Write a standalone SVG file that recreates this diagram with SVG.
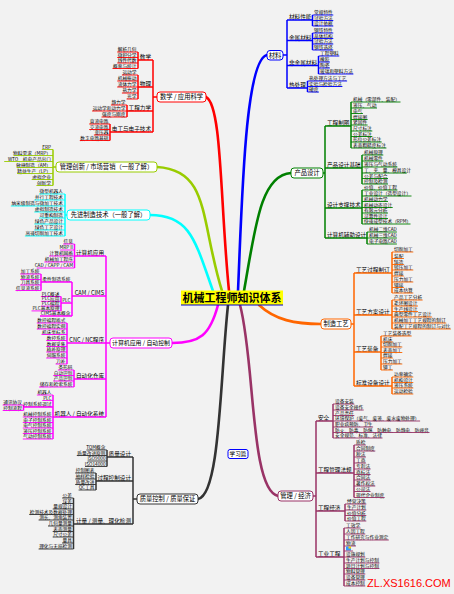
<svg xmlns="http://www.w3.org/2000/svg" width="454" height="594" viewBox="0 0 454 594">
<style>
text{font-family:"Noto Sans CJK SC","Noto Sans",sans-serif;fill:#000;stroke:none}
.l{font-size:4.7px}
.s{font-size:5.6px}
.n{font-size:6.3px;text-anchor:middle}
.e{text-anchor:end}
path{fill:none}
.u{stroke-width:0.9}
.v{stroke-width:1.5}
.cv{stroke-width:2.6;stroke-linecap:round}
.bx{fill:#fff;stroke-width:1}
.R{stroke:#ff0000}.B{stroke:#0000ff}.G{stroke:#008000}.O{stroke:#ff6600}.P{stroke:#993366}.K{stroke:#333333}.M{stroke:#ff00ff}.C{stroke:#00ffff}.Y{stroke:#99cc00}
</style>
<rect width="454" height="594" fill="#f2f2f2"/>
<g id="connectors">
 <g class="cv">
  <path class="R" d="M229 291C220 200 222 105 206 97"/>
  <path class="B" d="M238 291C242 200 245 60 267 55"/>
  <path class="G" d="M244 291C255 230 260 175 291 173"/>
  <path class="O" d="M259 305C275 320 295 324 321 324"/>
  <path class="P" d="M240 305C255 360 250 490 278 496"/>
  <path class="K" d="M228 305C220 380 220 495 198 499"/>
  <path class="M" d="M218 305C210 335 200 343 172 343"/>
  <path class="C" d="M213 291C195 240 190 215 150 215"/>
  <path class="Y" d="M222 291C200 220 210 170 157 167"/>
 </g>
 <path class="R v" d="M153 60V132M153 97H157M138 52V68.5M138 75V99M127 105V117M110 124V140.5"/>
 <path class="Y v" d="M53 149.5V185.5M53 167H56"/>
 <path class="C v" d="M65 194V236M65 215H67"/>
 <path class="M v" d="M106 256V417M106 343H110M74.5 244V268M72 282V316M41 274V290.5M61 296.5V310.9M67 323V364M74 370V387M53 395V439M23.5 405V410.5"/>
 <path class="K v" d="M133 457V524M133 499H137M107 450V466.5M96 473V490M73.5 498V549"/>
 <path class="B v" d="M287 20V88M283 55H287M312.5 15V26M312.5 33V50M318.5 56V74M307.5 81V92"/>
 <path class="G v" d="M325 126V238M323 173H325M351 102V148M362 155V184M362 190V224M367 232V244"/>
 <path class="O v" d="M354 273V386M351 324H354M392 252V293M392 300V329M381 336V370M392 377V394"/>
 <path class="P v" d="M316 421V557M313 496H316M333 404V438M354 445V497.5M345 504V521M344 528V586"/>
</g>

<g id="n-center">
 <rect x="181" y="290.5" width="102" height="14.5" fill="#ffff00"/>
 <text x="232" y="302" style="font-size:11px;font-weight:bold;text-anchor:middle">机械工程师知识体系</text>
 <path d="M181 305H283" stroke="#0000cc" stroke-width="1.2"/>
</g>

<g class="R">
 <g id="n-sci"><rect class="bx" x="157" y="92" width="49" height="10" rx="3"/><text class="n" x="181.5" y="99.3">数学 / 应用科学</text></g>
 <g id="n-math"><text class="s e" x="151" y="59">数学</text><path class="v" d="M138 60H153"/></g>
 <g id="n-math1"><text class="l e" x="136.5" y="51">解析几何</text><path class="u" d="M117.2 52H138"/></g>
 <g id="n-math2"><text class="l e" x="136.5" y="56.5">微积分学</text><path class="u" d="M117.2 57.5H138"/></g>
 <g id="n-math3"><text class="l e" x="136.5" y="62">线性代数</text><path class="u" d="M117.2 63H138"/></g>
 <g id="n-math4"><text class="l e" x="136.5" y="67.5">概率与统计</text><path class="u" d="M112.5 68.5H138"/></g>
 <g id="n-phy"><text class="s e" x="151" y="86">物理</text><path class="v" d="M138 87H153"/></g>
 <g id="n-phy1"><text class="l e" x="136.5" y="74">运动学</text><path class="u" d="M121.9 75H138"/></g>
 <g id="n-phy2"><text class="l e" x="136.5" y="80">机械振动</text><path class="u" d="M117.2 81H138"/></g>
 <g id="n-phy3"><text class="l e" x="136.5" y="86">流体力学</text><path class="u" d="M117.2 87H138"/></g>
 <g id="n-phy4"><text class="l e" x="136.5" y="92">热力学</text><path class="u" d="M121.9 93H138"/></g>
 <g id="n-phy5"><text class="l e" x="136.5" y="98">光学</text><path class="u" d="M126.6 99H138"/></g>
 <g id="n-mech"><text class="s e" x="151" y="110">工程力学</text><path class="v" d="M127 111H153"/></g>
 <g id="n-mech1"><text class="l e" x="125.5" y="104">静力学</text><path class="u" d="M110.9 105H127"/></g>
 <g id="n-mech2"><text class="l e" x="125.5" y="110">运动学和动力学</text><path class="u" d="M92.1 111H127"/></g>
 <g id="n-mech3"><text class="l e" x="125.5" y="116">强度与刚度</text><path class="u" d="M101.5 117H127"/></g>
 <g id="n-elec"><text class="s e" x="151" y="131">电工与电子技术</text><path class="v" d="M110 132H153"/></g>
 <g id="n-elec1"><text class="l e" x="108.5" y="123">直流电路</text><path class="u" d="M89.2 124H110"/></g>
 <g id="n-elec2"><text class="l e" x="108.5" y="128.5">交流电路</text><path class="u" d="M89.2 129.5H110"/></g>
 <g id="n-elec3"><text class="l e" x="108.5" y="134">变压器</text><path class="u" d="M93.9 135H110"/></g>
 <g id="n-elec4"><text class="l e" x="108.5" y="139.5">数字电路基础</text><path class="u" d="M79.8 140.5H110"/></g>
</g>

<g class="Y">
 <g id="n-mgmt"><rect class="bx" x="56" y="162" width="101" height="10" rx="3"/><text class="n" x="106.5" y="169.3">管理创新 / 市场营销（一般了解）</text></g>
 <g id="n-mgmt1"><text class="l e" x="51" y="148.5">ERP</text><path class="u" d="M41.8 149.5H53"/></g>
 <g id="n-mgmt2"><text class="l e" x="51" y="154.5">物料需求（MRP）</text><path class="u" d="M13.6 155.5H53"/></g>
 <g id="n-mgmt3"><text class="l e" x="51" y="160.5">WTO、机电产品出口</text><path class="u" d="M4.2 161.5H53"/></g>
 <g id="n-mgmt4"><text class="l e" x="51" y="166.5">敏捷制造（AM）</text><path class="u" d="M16.7 167.5H53"/></g>
 <g id="n-mgmt5"><text class="l e" x="51" y="172.5">精益生产（LP）</text><path class="u" d="M17 173.5H53"/></g>
 <g id="n-mgmt6"><text class="l e" x="51" y="178.5">虚拟企业</text><path class="u" d="M31.7 179.5H53"/></g>
 <g id="n-mgmt7"><text class="l e" x="51" y="184.5">创新学</text><path class="u" d="M36.4 185.5H53"/></g>
</g>

<g class="C">
 <g id="n-adv"><rect class="bx" x="67" y="210" width="83" height="10" rx="3"/><text class="n" x="108.5" y="217.3">先进制造技术（一般了解）</text></g>
 <g id="n-adv1"><text class="l e" x="63" y="193">微型机器人</text><path class="u" d="M39 194H65"/></g>
 <g id="n-adv2"><text class="l e" x="63" y="199">并行工程技术</text><path class="u" d="M34.3 200H65"/></g>
 <g id="n-adv3"><text class="l e" x="63" y="205">纳米级制造与微加工技术</text><path class="u" d="M10.8 206H65"/></g>
 <g id="n-adv4"><text class="l e" x="63" y="211">虚拟制造技术</text><path class="u" d="M34.3 212H65"/></g>
 <g id="n-adv5"><text class="l e" x="63" y="217">可重构制造</text><path class="u" d="M39 218H65"/></g>
 <g id="n-adv6"><text class="l e" x="63" y="223">绿色产品设计</text><path class="u" d="M34.3 224H65"/></g>
 <g id="n-adv7"><text class="l e" x="63" y="229">绿色工艺设计</text><path class="u" d="M34.3 230H65"/></g>
 <g id="n-adv8"><text class="l e" x="63" y="235">高速切削加工技术</text><path class="u" d="M24.9 236H65"/></g>
</g>

<g class="M">
 <g id="n-comp"><rect class="bx" x="110" y="338" width="62" height="10" rx="3"/><text class="n" x="141" y="345.3" style="font-size:5.9px">计算机应用 / 自动控制</text></g>
 <g id="n-ca"><text class="s e" x="104" y="255">计算机应用</text><path class="v" d="M74.5 256H106"/></g>
 <g id="n-ca1"><text class="l e" x="73" y="243">信息</text><path class="u" d="M63.1 244H74.5"/></g>
 <g id="n-ca2"><text class="l e" x="73" y="249">MRP II</text><path class="u" d="M60.2 250H74.5"/></g>
 <g id="n-ca3"><text class="l e" x="73" y="255">计算机网络</text><path class="u" d="M49 256H74.5"/></g>
 <g id="n-ca4"><text class="l e" x="73" y="261">机械加工程序</text><path class="u" d="M44.3 262H74.5"/></g>
 <g id="n-ca5"><text class="l e" x="73" y="267">CAD / CAPP / CAM</text><path class="u" d="M36.7 268H74.5"/></g>
 <g id="n-cims"><text class="s e" x="104" y="295">CAM / CIMS</text><path class="v" d="M72 296H106"/></g>
 <g id="n-fms"><text class="l e" x="70.5" y="281">柔性制造系统</text><path class="v" d="M41 282H72"/></g>
 <g id="n-fms1"><text class="l e" x="39.5" y="273">加工系统</text><path class="u" d="M20.2 274H41"/></g>
 <g id="n-fms2"><text class="l e" x="39.5" y="278.5">物流系统</text><path class="u" d="M20.2 279.5H41"/></g>
 <g id="n-fms3"><text class="l e" x="39.5" y="284">刀具系统</text><path class="u" d="M20.2 285H41"/></g>
 <g id="n-fms4"><text class="l e" x="39.5" y="289.5">信息流系统</text><path class="u" d="M15.5 290.5H41"/></g>
 <g id="n-plc"><text class="l e" x="70.5" y="302">PLC</text><path class="v" d="M61 303H72"/></g>
 <g id="n-plc1"><text class="l e" x="59.5" y="295.5">PLC概述</text><path class="u" d="M40.9 296.5H61"/></g>
 <g id="n-plc2"><text class="l e" x="59.5" y="300.3">PLC应用</text><path class="u" d="M40.9 301.3H61"/></g>
 <g id="n-plc3"><text class="l e" x="59.5" y="305.1">PLC编程</text><path class="u" d="M40.9 306.1H61"/></g>
 <g id="n-plc4"><text class="l e" x="59.5" y="309.9">PLC基本原理</text><path class="u" d="M31.5 310.9H61"/></g>
 <g id="n-cims1"><text class="l e" x="70.5" y="315">CIMS基本概念</text><path class="v" d="M40 316H72"/></g>
 <g id="n-cnc"><text class="s e" x="104" y="342">CNC / NC程序</text><path class="v" d="M67 343H106"/></g>
 <g id="n-cnc1"><text class="l e" x="65.5" y="322">数控编程格式</text><path class="u" d="M36.8 323H67"/></g>
 <g id="n-cnc2"><text class="l e" x="65.5" y="328">数控编程实例</text><path class="u" d="M36.8 329H67"/></g>
 <g id="n-cnc3"><text class="l e" x="65.5" y="333.5">机床坐标系</text><path class="u" d="M41.5 334.5H67"/></g>
 <g id="n-cnc4"><text class="l e" x="65.5" y="339.5">数控系统</text><path class="u" d="M46.2 340.5H67"/></g>
 <g id="n-cnc5"><text class="l e" x="65.5" y="345.5">数据采集</text><path class="u" d="M46.2 346.5H67"/></g>
 <g id="n-cnc6"><text class="l e" x="65.5" y="351">插补原理</text><path class="u" d="M46.2 352H67"/></g>
 <g id="n-cnc7"><text class="l e" x="65.5" y="357">伺服系统</text><path class="u" d="M46.2 358H67"/></g>
 <g id="n-cnc8"><text class="l e" x="65.5" y="363">刀补</text><path class="u" d="M55.6 364H67"/></g>
 <g id="n-as"><text class="s e" x="104" y="378">自动化仓库</text><path class="v" d="M74 379H106"/></g>
 <g id="n-as1"><text class="l e" x="72.5" y="369">条形码</text><path class="u" d="M57.9 370H74"/></g>
 <g id="n-as2"><text class="l e" x="72.5" y="374.5">自动识别</text><path class="u" d="M53.2 375.5H74"/></g>
 <g id="n-as3"><text class="l e" x="72.5" y="380">产品识别</text><path class="u" d="M53.2 381H74"/></g>
 <g id="n-as4"><text class="l e" x="72.5" y="386">储存和检索系统</text><path class="u" d="M39.1 387H74"/></g>
 <g id="n-rob"><text class="s e" x="104" y="416">机器人 / 自动化系统</text><path class="v" d="M53 417H106"/></g>
 <g id="n-rob1"><text class="l e" x="51.5" y="394">机器人</text><path class="u" d="M36.9 395H53"/></g>
 <g id="n-rob2"><text class="l e" x="51.5" y="399.5">PLC</text><path class="u" d="M42.3 400.5H53"/></g>
 <g id="n-rob3"><text class="l e" x="51.5" y="406">控制系统调试</text><path class="v" d="M23.5 407H53"/></g>
 <g id="n-rob3a"><text class="l e" x="22" y="404">通讯协议</text><path class="u" d="M2.7 405H23.5"/></g>
 <g id="n-rob3b"><text class="l e" x="22" y="409.5">控制流程</text><path class="u" d="M2.7 410.5H23.5"/></g>
 <g id="n-rob4"><text class="l e" x="51.5" y="416">机械控制系统</text><path class="u" d="M22.8 417H53"/></g>
 <g id="n-rob5"><text class="l e" x="51.5" y="421.5">电子控制系统</text><path class="u" d="M22.8 422.5H53"/></g>
 <g id="n-rob6"><text class="l e" x="51.5" y="427">电气控制系统</text><path class="u" d="M22.8 428H53"/></g>
 <g id="n-rob7"><text class="l e" x="51.5" y="432.5">液压控制系统</text><path class="u" d="M22.8 433.5H53"/></g>
 <g id="n-rob8"><text class="l e" x="51.5" y="438">气动控制系统</text><path class="u" d="M22.8 439H53"/></g>
</g>

<g class="K">
 <g id="n-qc"><rect class="bx" x="137" y="494" width="61" height="10" rx="3"/><text class="n" x="167.5" y="501.3">质量控制 / 质量保证</text></g>
 <g id="n-qd"><text class="s e" x="131" y="456">质量设计</text><path class="v" d="M107 457H133"/></g>
 <g id="n-qd1"><text class="l e" x="105.5" y="449">TQM概念</text><path class="u" d="M86.4 450H107"/></g>
 <g id="n-qd2"><text class="l e" x="105.5" y="454.5">质量改进原则</text><path class="u" d="M76.8 455.5H107"/></g>
 <g id="n-qd3"><text class="l e" x="105.5" y="460">ISO9000</text><path class="u" d="M87.6 461H107"/></g>
 <g id="n-qd4"><text class="l e" x="105.5" y="465.5">ISO14000</text><path class="u" d="M85 466.5H107"/></g>
 <g id="n-pc"><text class="s e" x="131" y="480">过程控制设计</text><path class="v" d="M96 481H133"/></g>
 <g id="n-pc1"><text class="l e" x="94.5" y="472">控制图表</text><path class="u" d="M75.2 473H96"/></g>
 <g id="n-pc2"><text class="l e" x="94.5" y="478">抽样检验</text><path class="u" d="M75.2 479H96"/></g>
 <g id="n-pc3"><text class="l e" x="94.5" y="483.5">质量改进</text><path class="u" d="M75.2 484.5H96"/></g>
 <g id="n-pc4"><text class="l e" x="94.5" y="489">QC工具</text><path class="u" d="M78.6 490H96"/></g>
 <g id="n-ms"><text class="s e" x="131" y="523">计量 / 测量、理化检测</text><path class="v" d="M74 524H133"/></g>
 <g id="n-ms1"><text class="l e" x="72" y="497">公差</text><path class="u" d="M62.1 498H73.5"/></g>
 <g id="n-ms2"><text class="l e" x="72" y="502.5">误差</text><path class="u" d="M62.1 503.5H73.5"/></g>
 <g id="n-ms3"><text class="l e" x="72" y="508">量规设计</text><path class="u" d="M52.7 509H73.5"/></g>
 <g id="n-ms4"><text class="l e" x="72" y="513.5">检测技术及数据处理</text><path class="u" d="M29.2 514.5H73.5"/></g>
 <g id="n-ms5"><text class="l e" x="72" y="519">测长、测角装置</text><path class="u" d="M38.6 520H73.5"/></g>
 <g id="n-ms6"><text class="l e" x="72" y="525">几何量测量</text><path class="u" d="M48 526H73.5"/></g>
 <g id="n-ms7"><text class="l e" x="72" y="530.5">表面测量</text><path class="u" d="M52.7 531.5H73.5"/></g>
 <g id="n-ms8"><text class="l e" x="72" y="536">尺寸公差</text><path class="u" d="M52.7 537H73.5"/></g>
 <g id="n-ms9"><text class="l e" x="72" y="542">量具</text><path class="u" d="M62.1 543H73.5"/></g>
 <g id="n-ms10"><text class="l e" x="72" y="548">理化与无损检测</text><path class="u" d="M38.6 549H73.5"/></g>
</g>

<g id="n-study">
 <rect x="228" y="449.5" width="20" height="9" rx="2" fill="#fff" stroke="#0000ff" stroke-width="1"/>
 <text x="238" y="456.3" style="font-size:5.6px;text-anchor:middle">学习篇</text>
</g>

<g class="B">
 <g id="n-mat"><rect class="bx" x="267" y="50.5" width="16" height="9.5" rx="3"/><text class="n" x="275" y="57.5">材料</text></g>
 <g id="n-mp"><text class="s" x="289" y="19">材料性能</text><path class="v" d="M287 20H312.5"/></g>
 <g id="n-mp1"><text class="l" x="314" y="14">常规特性</text><path class="u" d="M312.5 15H333.3"/></g>
 <g id="n-mp2"><text class="l" x="314" y="19.5">试验方法</text><path class="u" d="M312.5 20.5H333.3"/></g>
 <g id="n-mp3"><text class="l" x="314" y="25">设计依据</text><path class="u" d="M312.5 26H333.3"/></g>
 <g id="n-mm"><text class="s" x="289" y="39.5">金属材料</text><path class="v" d="M287 40.5H312.5"/></g>
 <g id="n-mm1"><text class="l" x="314" y="32">钢铁特性</text><path class="u" d="M312.5 33H333.3"/></g>
 <g id="n-mm2"><text class="l" x="314" y="37.5">晶体结构</text><path class="u" d="M312.5 38.5H333.3"/></g>
 <g id="n-mm3"><text class="l" x="314" y="43">试验方法</text><path class="u" d="M312.5 44H333.3"/></g>
 <g id="n-mm4"><text class="l" x="314" y="49">钢铁选择</text><path class="u" d="M312.5 50H333.3"/></g>
 <g id="n-mn"><text class="s" x="289" y="64.5">非金属材料</text><path class="v" d="M287 65.5H318.5"/></g>
 <g id="n-mn1"><text class="l" x="320" y="55">工程塑料</text><path class="u" d="M318.5 56H339.3"/></g>
 <g id="n-mn2"><text class="l" x="320" y="61">橡胶</text><path class="u" d="M318.5 62H329.9"/></g>
 <g id="n-mn3"><text class="l" x="320" y="67">陶瓷</text><path class="u" d="M318.5 68H329.9"/></g>
 <g id="n-mn4"><text class="l" x="320" y="73">玻璃和塑料方法</text><path class="u" d="M318.5 74H353.4"/></g>
 <g id="n-ht"><text class="s" x="289" y="87">热处理</text><path class="v" d="M287 88H307.5"/></g>
 <g id="n-ht1"><text class="l" x="309" y="80">热处理方法与工艺</text><path class="u" d="M307.5 81H347.1"/></g>
 <g id="n-ht2"><text class="l" x="309" y="85.5">实验与检验方法</text><path class="u" d="M307.5 86.5H342.4"/></g>
 <g id="n-ht3"><text class="l" x="309" y="91">硬度</text><path class="u" d="M307.5 92H318.9"/></g>
</g>

<g class="G">
 <g id="n-pd"><rect class="bx" x="291" y="168" width="32" height="10" rx="3"/><text class="n" x="307" y="175.3">产品设计</text></g>
 <g id="n-dr"><text class="s" x="327" y="125">工程制图</text><path class="v" d="M325 126H351"/></g>
 <g id="n-dr1"><text class="l" x="353" y="101">机械（零部件、装配）</text><path class="u" d="M351 102H400.5"/></g>
 <g id="n-dr2"><text class="l" x="353" y="107">液压、气动</text><path class="u" d="M351 108H377"/></g>
 <g id="n-dr3"><text class="l" x="353" y="112.5">电气</text><path class="u" d="M351 113.5H362.9"/></g>
 <g id="n-dr4"><text class="l" x="353" y="118.5">焊接图</text><path class="u" d="M351 119.5H367.6"/></g>
 <g id="n-dr5"><text class="l" x="353" y="124">紧固件</text><path class="u" d="M351 125H367.6"/></g>
 <g id="n-dr6"><text class="l" x="353" y="130">尺寸标注</text><path class="u" d="M351 131H372.3"/></g>
 <g id="n-dr7"><text class="l" x="353" y="135.5">公差标注</text><path class="u" d="M351 136.5H372.3"/></g>
 <g id="n-dr8"><text class="l" x="353" y="141">形位公差标注</text><path class="u" d="M351 142H381.7"/></g>
 <g id="n-dr9"><text class="l" x="353" y="147">表面粗糙度标注</text><path class="u" d="M351 148H386.4"/></g>
 <g id="n-pb"><text class="s" x="327" y="167">产品设计基础</text><path class="v" d="M325 168H362"/></g>
 <g id="n-pb1"><text class="l" x="364" y="154">机械原理</text><path class="u" d="M362 155H383.3"/></g>
 <g id="n-pb2"><text class="l" x="364" y="160">机械零件</text><path class="u" d="M362 161H383.3"/></g>
 <g id="n-pb3"><text class="l" x="364" y="166">液压与气动系统</text><path class="u" d="M362 167H397.4"/></g>
 <g id="n-pb4"><text class="l" x="364" y="172">工、夹、量、模具设计</text><path class="u" d="M362 173H406.8"/></g>
 <g id="n-pb5"><text class="l" x="364" y="177.5">公差与配合</text><path class="u" d="M362 178.5H388"/></g>
 <g id="n-pb6"><text class="l" x="364" y="183">控制及检测</text><path class="u" d="M362 184H388"/></g>
 <g id="n-st"><text class="s" x="327" y="207">设计支撑技术</text><path class="v" d="M325 208H362"/></g>
 <g id="n-st1"><text class="l" x="364" y="189">价值、价值工程</text><path class="u" d="M362 190H397.4"/></g>
 <g id="n-st2"><text class="l" x="364" y="195">工业设计（造型设计）</text><path class="u" d="M362 196H411.5"/></g>
 <g id="n-st3"><text class="l" x="364" y="200.5">机械动力学</text><path class="u" d="M362 201.5H388"/></g>
 <g id="n-st4"><text class="l" x="364" y="206.5">机械动态设计</text><path class="u" d="M362 207.5H392.7"/></g>
 <g id="n-st5"><text class="l" x="364" y="212">有限元分析</text><path class="u" d="M362 213H388"/></g>
 <g id="n-st6"><text class="l" x="364" y="217.5">可靠性设计</text><path class="u" d="M362 218.5H388"/></g>
 <g id="n-st7"><text class="l" x="364" y="223">快速成型技术（RPM）</text><path class="u" d="M362 224H410.5"/></g>
 <g id="n-cad"><text class="s" x="327" y="237">计算机辅助设计</text><path class="v" d="M325 238H367"/></g>
 <g id="n-cad1"><text class="l" x="369" y="231">机械二维CAD</text><path class="u" d="M367 232H396.9"/></g>
 <g id="n-cad2"><text class="l" x="369" y="237">机械三维CAD</text><path class="u" d="M367 238H396.9"/></g>
 <g id="n-cad3"><text class="l" x="369" y="243">电子电路CAD</text><path class="u" d="M367 244H396.9"/></g>
</g>

<g class="O">
 <g id="n-mfg"><rect class="bx" x="321" y="319" width="30" height="10" rx="3"/><text class="n" x="336" y="326.3">制造工艺</text></g>
 <g id="n-pp"><text class="s" x="356" y="272">工艺过程制订</text><path class="v" d="M354 273H392"/></g>
 <g id="n-pp1"><text class="l" x="394" y="251">切削加工</text><path class="u" d="M392 252H413.3"/></g>
 <g id="n-pp2"><text class="l" x="394" y="257.5">装配</text><path class="u" d="M392 258.5H403.9"/></g>
 <g id="n-pp3"><text class="l" x="394" y="263.5">铸造</text><path class="u" d="M392 264.5H403.9"/></g>
 <g id="n-pp4"><text class="l" x="394" y="269">锻压加工</text><path class="u" d="M392 270H413.3"/></g>
 <g id="n-pp5"><text class="l" x="394" y="275">焊接</text><path class="u" d="M392 276H403.9"/></g>
 <g id="n-pp6"><text class="l" x="394" y="281">压力加工</text><path class="u" d="M392 282H413.3"/></g>
 <g id="n-pp7"><text class="l" x="394" y="286.5">铆接</text><path class="u" d="M392 287.5H403.9"/></g>
 <g id="n-pp8"><text class="l" x="394" y="292">成本估算</text><path class="u" d="M392 293H413.3"/></g>
 <g id="n-ps"><text class="s" x="356" y="314">工艺方案设计</text><path class="v" d="M354 315H392"/></g>
 <g id="n-ps1"><text class="l" x="394" y="299">产品工艺分析</text><path class="u" d="M392 300H422.7"/></g>
 <g id="n-ps2"><text class="l" x="394" y="305">毛坯图设计</text><path class="u" d="M392 306H418"/></g>
 <g id="n-ps3"><text class="l" x="394" y="310.5">生产线设计</text><path class="u" d="M392 311.5H418"/></g>
 <g id="n-ps4"><text class="l" x="394" y="316">典型零件工艺设计</text><path class="u" d="M392 317H432.1"/></g>
 <g id="n-ps5"><text class="l" x="394" y="322">机械加工工艺规程的制订</text><path class="u" d="M392 323H446.2"/></g>
 <g id="n-ps6"><text class="l" x="394" y="328">装配工艺规程的制订与对比</text><path class="u" d="M392 329H450.9"/></g>
 <g id="n-te"><text class="s" x="356" y="351">工艺装备</text><path class="v" d="M354 352H381"/></g>
 <g id="n-te1"><text class="l" x="383" y="335">工艺装备选型</text><path class="u" d="M381 336H411.7"/></g>
 <g id="n-te2"><text class="l" x="383" y="341">机床</text><path class="u" d="M381 342H392.9"/></g>
 <g id="n-te3"><text class="l" x="383" y="346">切削加工</text><path class="u" d="M381 347H402.3"/></g>
 <g id="n-te4"><text class="l" x="383" y="351.5">表面加工</text><path class="u" d="M381 352.5H402.3"/></g>
 <g id="n-te5"><text class="l" x="383" y="357">焊接</text><path class="u" d="M381 358H392.9"/></g>
 <g id="n-te6"><text class="l" x="383" y="363">压力加工</text><path class="u" d="M381 364H402.3"/></g>
 <g id="n-te7"><text class="l" x="383" y="369">铆工</text><path class="u" d="M381 370H392.9"/></g>
 <g id="n-sd"><text class="s" x="356" y="385">标准设备设计</text><path class="v" d="M354 386H392"/></g>
 <g id="n-sd1"><text class="l" x="394" y="376">功率确定</text><path class="u" d="M392 377H413.3"/></g>
 <g id="n-sd2"><text class="l" x="394" y="381.5">机构设计</text><path class="u" d="M392 382.5H413.3"/></g>
 <g id="n-sd3"><text class="l" x="394" y="387">液压系统</text><path class="u" d="M392 388H413.3"/></g>
 <g id="n-sd4"><text class="l" x="394" y="393">运动检验</text><path class="u" d="M392 394H413.3"/></g>
</g>

<g class="P">
 <g id="n-me"><rect class="bx" x="278" y="491" width="35" height="10" rx="3"/><text class="n" x="295.5" y="498.3">管理 / 经济</text></g>
 <g id="n-sf"><text class="s" x="318" y="420">安全</text><path class="v" d="M316 421H333"/></g>
 <g id="n-sf1"><text class="l" x="335" y="403">设备安装</text><path class="u" d="M333 404H354.3"/></g>
 <g id="n-sf2"><text class="l" x="335" y="409">设备安全操作</text><path class="u" d="M333 410H363.7"/></g>
 <g id="n-sf3"><text class="l" x="335" y="414.5">产品责任</text><path class="u" d="M333 415.5H354.3"/></g>
 <g id="n-sf4"><text class="l" x="335" y="420">环境保护（废气、废液、废水废物处理）</text><path class="u" d="M333 421H420.1"/></g>
 <g id="n-sf5"><text class="l" x="335" y="426">职业病预防、卫生</text><path class="u" d="M333 427H373.1"/></g>
 <g id="n-sf6"><text class="l" x="335" y="431.5">防火、防毒、防爆、防触电、防静电、防噪音</text><path class="u" d="M333 432.5H429.5"/></g>
 <g id="n-sf7"><text class="l" x="335" y="437">安全规范、标准、法律</text><path class="u" d="M333 438H382.5"/></g>
 <g id="n-lw"><text class="s" x="318" y="472">工程管理法规</text><path class="v" d="M316 473H354"/></g>
 <g id="n-lw1"><text class="l" x="356" y="444">质检</text><path class="u" d="M354 445H365.9"/></g>
 <g id="n-lw2"><text class="l" x="356" y="450">合同制度</text><path class="u" d="M354 451H375.3"/></g>
 <g id="n-lw3"><text class="l" x="356" y="456">税法</text><path class="u" d="M354 457H365.9"/></g>
 <g id="n-lw4"><text class="l" x="356" y="462">工商</text><path class="u" d="M354 463H365.9"/></g>
 <g id="n-lw5"><text class="l" x="356" y="468">专利法</text><path class="u" d="M354 469H370.6"/></g>
 <g id="n-lw6"><text class="l" x="356" y="473.5">商标法</text><path class="u" d="M354 474.5H370.6"/></g>
 <g id="n-lw7"><text class="l" x="356" y="479">合同法</text><path class="u" d="M354 480H370.6"/></g>
 <g id="n-lw8"><text class="l" x="356" y="485">著作权法</text><path class="u" d="M354 486H375.3"/></g>
 <g id="n-lw9"><text class="l" x="356" y="490.5">公司法</text><path class="u" d="M354 491.5H370.6"/></g>
 <g id="n-lw10"><text class="l" x="356" y="496.5">现代企业制度</text><path class="u" d="M354 497.5H384.7"/></g>
 <g id="n-ec"><text class="s" x="318" y="510">工程经济</text><path class="v" d="M316 511H345"/></g>
 <g id="n-ec1"><text class="l" x="347" y="503">经营决策</text><path class="u" d="M345 504H366.3"/></g>
 <g id="n-ec2"><text class="l" x="347" y="509">生产计划</text><path class="u" d="M345 510H366.3"/></g>
 <g id="n-ec3"><text class="l" x="347" y="514.5">价值分析</text><path class="u" d="M345 515.5H366.3"/></g>
 <g id="n-ec4"><text class="l" x="347" y="520">价值工程</text><path class="u" d="M345 521H366.3"/></g>
 <g id="n-ie"><text class="s" x="318" y="556">工业工程</text><path class="v" d="M316 557H344"/></g>
 <g id="n-ie1"><text class="l" x="346" y="527">工效学</text><path class="u" d="M344 528H360.6"/></g>
 <g id="n-ie2"><text class="l" x="346" y="533">人因工程</text><path class="u" d="M344 534H365.3"/></g>
 <g id="n-ie3"><text class="l" x="346" y="539">工作研究与作业测定</text><path class="u" d="M344 540H388.8"/></g>
 <g id="n-ie4"><text class="l" x="346" y="545">物流</text><path class="u" d="M344 546H355.9"/></g>
 <g id="n-ie5"><rect x="346" y="546.5" width="5" height="4" fill="#3399ff" stroke="none"/><rect x="348.5" y="546.5" width="2.5" height="2" fill="#ffcc00" stroke="none"/><path class="u" d="M344 551H353"/></g>
 <g id="n-ie6"><text class="l" x="346" y="556">设施规划</text><path class="u" d="M344 557H365.3"/></g>
 <g id="n-ie7"><text class="l" x="346" y="562">生产计划与控制</text><path class="u" d="M344 563H379.4"/></g>
 <g id="n-ie8"><text class="l" x="346" y="567.5">项目计划与控制</text><path class="u" d="M344 568.5H379.4"/></g>
 <g id="n-ie9"><text class="l" x="346" y="573">物料管理</text><path class="u" d="M344 574H365.3"/></g>
 <g id="n-ie10"><text class="l" x="346" y="579">设备管理</text><path class="u" d="M344 580H365.3"/></g>
 <g id="n-ie11"><text class="l" x="346" y="585">成本控制</text><path class="u" d="M344 586H365.3"/></g>
</g>

<text x="367" y="587" style="font-family:'Liberation Sans',Arial,sans-serif;font-size:11px;fill:#ff0000">ZL.XS1616.COM</text>
</svg>
